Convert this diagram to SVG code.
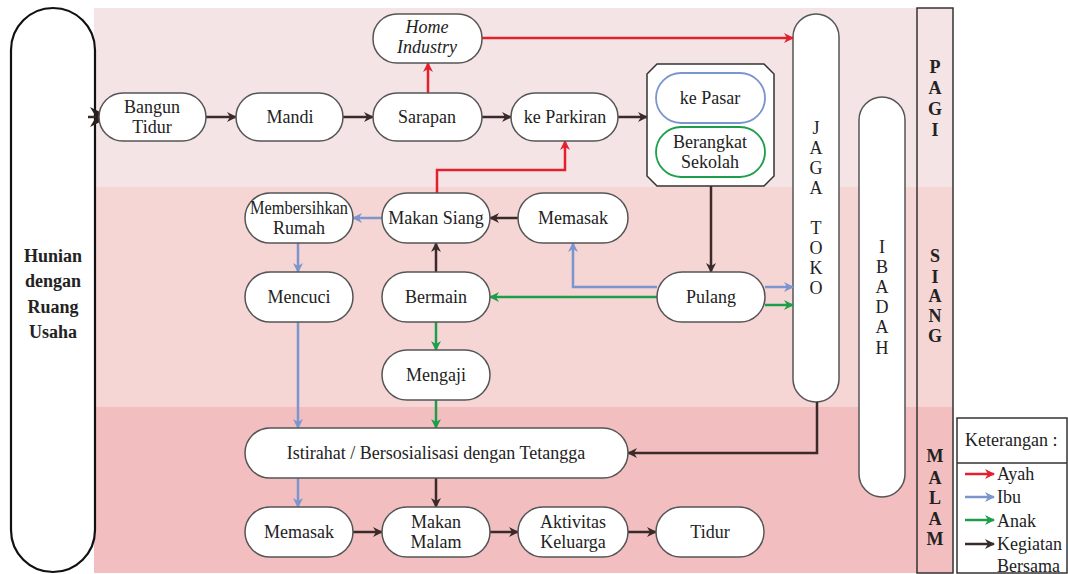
<svg xmlns="http://www.w3.org/2000/svg" width="1068" height="574" viewBox="0 0 1068 574" font-family="'Liberation Serif', 'DejaVu Serif', serif">
<defs>
<style>
text{font-family:'Liberation Serif','DejaVu Serif',serif}
.n{fill:#fff;stroke:#555;stroke-width:1.5}
.t{font-size:18px;fill:#222;text-anchor:middle}
.b{font-weight:bold}
.c{fill:none;stroke-width:2.5}
.k{stroke:#3b2a2a}
.r{stroke:#e3202b}
.u{stroke:#7b95cf}
.g{stroke:#1c9e4a}
</style>
<marker id="ak" viewBox="0 0 10 10" refX="9" refY="5" markerWidth="10" markerHeight="10" markerUnits="userSpaceOnUse" orient="auto"><path d="M0,0 L10,5 L0,10 L3,5 z" fill="#3b2a2a"/></marker>
<marker id="ar" viewBox="0 0 10 10" refX="9" refY="5" markerWidth="10" markerHeight="10" markerUnits="userSpaceOnUse" orient="auto"><path d="M0,0 L10,5 L0,10 L3,5 z" fill="#e3202b"/></marker>
<marker id="au" viewBox="0 0 10 10" refX="9" refY="5" markerWidth="10" markerHeight="10" markerUnits="userSpaceOnUse" orient="auto"><path d="M0,0 L10,5 L0,10 L3,5 z" fill="#7b95cf"/></marker>
<marker id="ag" viewBox="0 0 10 10" refX="9" refY="5" markerWidth="10" markerHeight="10" markerUnits="userSpaceOnUse" orient="auto"><path d="M0,0 L10,5 L0,10 L3,5 z" fill="#1c9e4a"/></marker>
<marker id="aB" viewBox="0 0 10 10" refX="9" refY="5" markerWidth="20" markerHeight="20" markerUnits="userSpaceOnUse" orient="auto"><path d="M0,0 L10,5 L0,10 L3,5 z" fill="#2a1f1f"/></marker>
</defs>

<g id="bands">
<rect x="94" y="8" width="859" height="179" fill="#f4e4e5"/>
<rect x="94" y="187" width="859" height="220" fill="#f6d5d5"/>
<rect x="94" y="407" width="859" height="166" fill="#f3bec0"/>
</g>

<g id="time-column">
<rect x="917" y="8" width="36" height="565" fill="none" stroke="#333" stroke-width="1.5"/>
<g class="t b" font-size="18">
<text x="935" y="73">P</text><text x="935" y="94">A</text><text x="935" y="115">G</text><text x="935" y="136">I</text>
<text x="935" y="262">S</text><text x="935" y="283">I</text><text x="935" y="302">A</text><text x="935" y="322">N</text><text x="935" y="342">G</text>
<text x="935" y="462">M</text><text x="935" y="484">A</text><text x="935" y="504">L</text><text x="935" y="525">A</text><text x="935" y="545">M</text>
</g>
</g>

<g id="hunian">
<rect x="11" y="8" width="84" height="564" rx="42" ry="42" fill="#fff" stroke="#111" stroke-width="2.2"/>
<text class="t b" font-size="23" x="53" y="262">Hunian</text>
<text class="t b" font-size="23" x="53" y="287">dengan</text>
<text class="t b" font-size="23" x="53" y="313">Ruang</text>
<text class="t b" font-size="23" x="53" y="338">Usaha</text>
</g>

<g id="jaga-toko">
<rect x="793" y="14" width="46" height="388" rx="23" ry="23" class="n"/>
<g class="t">
<text x="816" y="134">J</text><text x="816" y="154">A</text><text x="816" y="174">G</text><text x="816" y="194">A</text>
<text x="816" y="234">T</text><text x="816" y="254">O</text><text x="816" y="274">K</text><text x="816" y="294">O</text>
</g>
</g>

<g id="ibadah">
<rect x="859" y="97" width="46" height="400" rx="23" ry="23" class="n"/>
<g class="t">
<text x="882" y="253">I</text><text x="882" y="273">B</text><text x="882" y="293">A</text><text x="882" y="313">D</text><text x="882" y="333">A</text><text x="882" y="354">H</text>
</g>
</g>

<g id="connectors">
<path class="c k" d="M88,117 H108" stroke="#2a1f1f" stroke-width="2" marker-end="url(#aB)"/>
<path class="c k" d="M206,117 H236" marker-end="url(#ak)"/>
<path class="c k" d="M343,117 H373" marker-end="url(#ak)"/>
<path class="c k" d="M482,117 H511" marker-end="url(#ak)"/>
<path class="c k" d="M618,117 H647" marker-end="url(#ak)"/>
<path class="c r" d="M428,93 V63" marker-end="url(#ar)"/>
<path class="c r" d="M482,38 H793" marker-end="url(#ar)"/>
<path class="c r" d="M437,193 V170 H565 V141" marker-end="url(#ar)"/>
<path class="c k" d="M711,186 V272" marker-end="url(#ak)"/>
<path class="c u" d="M657,287 H573 V243" marker-end="url(#au)"/>
<path class="c g" d="M657,297 H490" marker-end="url(#ag)"/>
<path class="c u" d="M765,287 H793" marker-end="url(#au)"/>
<path class="c g" d="M765,305 H793" marker-end="url(#ag)"/>
<path class="c k" d="M518,218 H490" marker-end="url(#ak)"/>
<path class="c u" d="M382,218 H353" marker-end="url(#au)"/>
<path class="c k" d="M436,272 V243" marker-end="url(#ak)"/>
<path class="c u" d="M298,243 V272" marker-end="url(#au)"/>
<path class="c g" d="M436,322 V350" marker-end="url(#ag)"/>
<path class="c u" d="M298,322 V428" marker-end="url(#au)"/>
<path class="c g" d="M436,400 V428" marker-end="url(#ag)"/>
<path class="c k" d="M817,402 V453 H628" marker-end="url(#ak)"/>
<path class="c u" d="M298,478 V507" marker-end="url(#au)"/>
<path class="c k" d="M436,478 V507" marker-end="url(#ak)"/>
<path class="c k" d="M353,532 H382" marker-end="url(#ak)"/>
<path class="c k" d="M490,532 H518" marker-end="url(#ak)"/>
<path class="c k" d="M628,532 H656" marker-end="url(#ak)"/>
</g>

<g id="bangun-tidur"><rect x="99" y="93" width="107" height="48" rx="24" class="n"/><text class="t" x="152" y="113">Bangun</text><text class="t" x="152" y="133">Tidur</text></g>
<g id="mandi"><rect x="236" y="93" width="107" height="48" rx="24" class="n"/><text class="t" x="290" y="123">Mandi</text></g>
<g id="sarapan"><rect x="373" y="93" width="109" height="48" rx="24" class="n"/><text class="t" x="427" y="123">Sarapan</text></g>
<g id="ke-parkiran"><rect x="511" y="93" width="107" height="48" rx="24" class="n"/><text class="t" x="565" y="123">ke Parkiran</text></g>
<g id="home-industry"><rect x="373" y="14" width="109" height="49" rx="24" class="n"/><text class="t" font-style="italic" x="427" y="33">Home</text><text class="t" font-style="italic" x="427" y="53">Industry</text></g>

<g id="pasar-sekolah">
<path d="M657,64 H764 L774,74 V176 L764,186 H657 L647,176 V74 Z" fill="#fff" stroke="#333" stroke-width="1.5"/>
<g id="ke-pasar"><rect x="656" y="73" width="109" height="50" rx="25" fill="#fff" stroke="#7b95cf" stroke-width="1.8"/><text class="t" x="710" y="104">ke Pasar</text></g>
<g id="berangkat-sekolah"><rect x="656" y="127" width="109" height="50" rx="25" fill="#fff" stroke="#1c9e4a" stroke-width="1.8"/><text class="t" x="710" y="148">Berangkat</text><text class="t" x="710" y="168">Sekolah</text></g>
</g>

<g id="membersihkan-rumah"><rect x="245" y="193" width="108" height="50" rx="25" class="n"/><text class="t" x="299" y="214" textLength="98" lengthAdjust="spacingAndGlyphs">Membersihkan</text><text class="t" x="299" y="234">Rumah</text></g>
<g id="makan-siang"><rect x="382" y="193" width="108" height="50" rx="25" class="n"/><text class="t" x="436" y="224">Makan Siang</text></g>
<g id="memasak-siang"><rect x="518" y="193" width="110" height="50" rx="25" class="n"/><text class="t" x="573" y="224">Memasak</text></g>
<g id="mencuci"><rect x="245" y="272" width="108" height="50" rx="25" class="n"/><text class="t" x="299" y="303">Mencuci</text></g>
<g id="bermain"><rect x="382" y="272" width="108" height="50" rx="25" class="n"/><text class="t" x="436" y="303">Bermain</text></g>
<g id="mengaji"><rect x="382" y="350" width="108" height="50" rx="25" class="n"/><text class="t" x="436" y="381">Mengaji</text></g>
<g id="pulang"><rect x="657" y="272" width="108" height="50" rx="25" class="n"/><text class="t" x="711" y="303">Pulang</text></g>

<g id="istirahat"><rect x="245" y="428" width="383" height="50" rx="25" class="n"/><text class="t" x="436" y="459">Istirahat / Bersosialisasi dengan Tetangga</text></g>
<g id="memasak-malam"><rect x="245" y="507" width="108" height="50" rx="25" class="n"/><text class="t" x="299" y="538">Memasak</text></g>
<g id="makan-malam"><rect x="382" y="507" width="108" height="50" rx="25" class="n"/><text class="t" x="436" y="528">Makan</text><text class="t" x="436" y="548">Malam</text></g>
<g id="aktivitas-keluarga"><rect x="518" y="507" width="110" height="50" rx="25" class="n"/><text class="t" x="573" y="528">Aktivitas</text><text class="t" x="573" y="548">Keluarga</text></g>
<g id="tidur"><rect x="656" y="507" width="108" height="50" rx="25" class="n"/><text class="t" x="710" y="538">Tidur</text></g>

<g id="legend">
<rect x="957" y="418" width="110" height="155" fill="#fff" stroke="#333" stroke-width="1.5"/>
<line x1="957" y1="463" x2="1067" y2="463" stroke="#333" stroke-width="1.5"/>
<text class="t" x="965" y="446" style="text-anchor:start">Keterangan :</text>
<path class="c r" d="M965,474 H994" marker-end="url(#ar)"/>
<path class="c u" d="M965,497 H994" marker-end="url(#au)"/>
<path class="c g" d="M965,520 H994" marker-end="url(#ag)"/>
<path class="c k" d="M965,544 H994" marker-end="url(#ak)"/>
<g class="t" style="text-anchor:start">
<text x="997" y="480">Ayah</text>
<text x="997" y="503">Ibu</text>
<text x="997" y="527">Anak</text>
<text x="997" y="550">Kegiatan</text>
<text x="997" y="572">Bersama</text>
</g>
</g>
</svg>
